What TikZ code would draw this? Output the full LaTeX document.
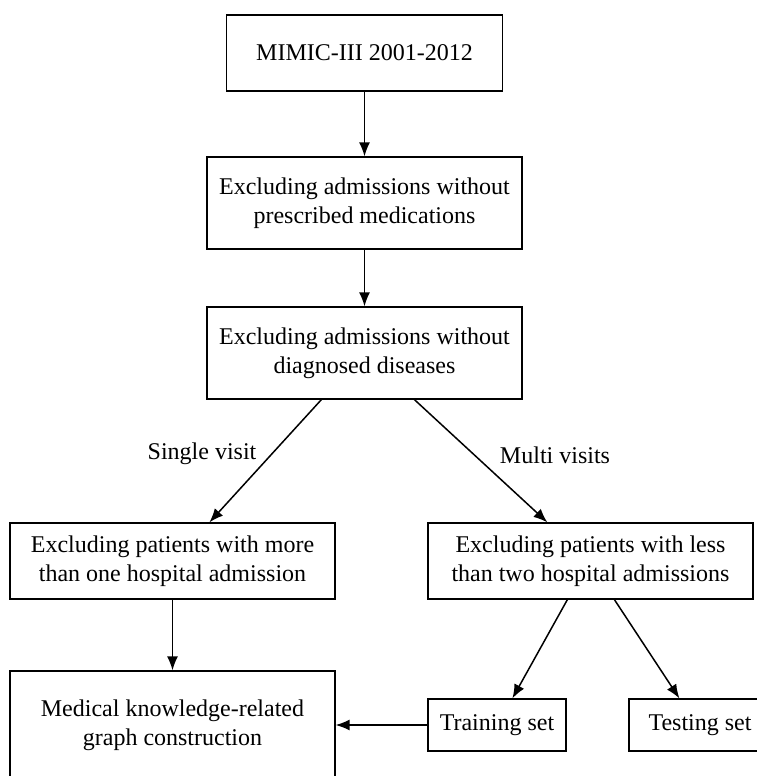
\documentclass[tikz,border=0pt]{standalone}
\usepackage{fontspec}
\setmainfont{Liberation Serif}
\usetikzlibrary{arrows.meta,calc}
\begin{document}
\begin{tikzpicture}[x=1pt,y=-1pt,
  box/.style={draw,line width=1.2pt,inner sep=0pt,align=center,font=\fontsize{24}{29}\selectfont},
  lbl/.style={inner sep=0pt,font=\fontsize{24}{29}\selectfont},
  arr/.style={line width=1.5pt,-{Latex[length=14pt,width=11pt]}}]
\useasboundingbox (0,0) rectangle (756,776);
\fill[white] (0,0) rectangle (756,776);
\node[box,minimum width=276pt,minimum height=76pt] (mimic) at (364.5,53) {MIMIC-III 2001-2012};
\node[box,minimum width=315pt,minimum height=92pt] (med) at (364.5,203) {Excluding admissions without\\prescribed medications};
\node[box,minimum width=315pt,minimum height=92pt] (diag) at (364.5,353) {Excluding admissions without\\diagnosed diseases};
\node[box,minimum width=325pt,minimum height=76pt] (single) at (172.5,561) {Excluding patients with more\\than one hospital admission};
\node[box,minimum width=325pt,minimum height=76pt] (multi) at (590.5,561) {Excluding patients with less\\than two hospital admissions};
\node[box,minimum width=325pt,minimum height=108pt] (graph) at (172.5,725) {Medical knowledge-related\\graph construction};
\node[box,minimum width=138pt,minimum height=52pt] (train) at (497,725) {Training set};
\node[box,minimum width=142pt,minimum height=52pt] (test) at (700,725) {Testing set};
\node[lbl] (sv) at (202,454) {Single visit};
\node[lbl] (mv) at (555,455) {Multi visits};
\draw[arr] (mimic.south) -- (med.north);
\draw[arr] (med.south) -- (diag.north);
\draw[arr] ($(diag.south west)+(115,0)$) -- ($(single.north west)+(200,0)$);
\draw[arr] ($(diag.south west)+(208,0)$) -- ($(multi.north west)+(120,0)$);
\draw[arr] (single.south) -- (graph.north);
\draw[arr] ($(multi.south west)+(140,0)$) -- ($(train.north west)+(85,0)$);
\draw[arr] ($(multi.south west)+(187,0)$) -- ($(test.north west)+(51,0)$);
\draw[arr] (train.west) -- (graph.east);
\end{tikzpicture}
\end{document}
